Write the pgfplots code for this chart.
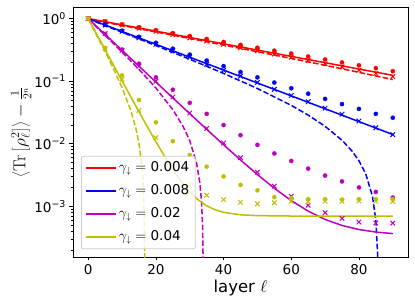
\documentclass[border=0pt]{standalone}
\usepackage[no-math]{fontspec}
\setmainfont{DejaVu Sans}
\usepackage{pgfplots}
\pgfplotsset{compat=1.18}
\definecolor{cR}{rgb}{1,0,0}
\definecolor{cB}{rgb}{0,0,1}
\definecolor{cM}{rgb}{0.75,0,0.75}
\definecolor{cY}{rgb}{0.75,0.75,0}
\newcommand{\tfont}{\fontsize{13.5}{16}\selectfont}
\newcommand{\lfont}{\fontsize{16.5}{19}\selectfont}
\begin{document}
\begin{tikzpicture}
\useasboundingbox (-73pt,-50pt) rectangle (342pt,257pt);
\begin{axis}[
  scale only axis, width=335pt, height=250pt,
  ymode=log, xmin=-4.5, xmax=94.5, ymin=1.55e-4, ymax=1.53,
  xtick={0,20,40,60,80}, xticklabels={0,20,40,60,80},
  ytick={1e-3,1e-2,1e-1,1},
  yticklabels={10\textsuperscript{−3},10\textsuperscript{−2},10\textsuperscript{−1},10\textsuperscript{0}},
  minor ytick={2e-4,3e-4,4e-4,5e-4,6e-4,7e-4,8e-4,9e-4,2e-3,3e-3,4e-3,5e-3,6e-3,7e-3,8e-3,9e-3,2e-2,3e-2,4e-2,5e-2,6e-2,7e-2,8e-2,9e-2,2e-1,3e-1,4e-1,5e-1,6e-1,7e-1,8e-1,9e-1},
  minor xtick={},
  xtick pos=left, ytick pos=left,
  tick align=outside, major tick length=3.5pt, minor tick length=2pt,
  every tick/.style={black, line width=0.8pt},
  every minor tick/.style={black, line width=0.6pt},
  axis line style={line width=0.8pt},
  ticklabel style={font=\tfont},
  xlabel={layer $\ell$},
  ylabel={$\left\langle \mathrm{Tr}\left[\rho_\ell^2\right]\right\rangle - \frac{1}{2^n}$},
  every axis x label/.style={at={(axis description cs:0.5,0)}, anchor=center, yshift=-31pt, font=\lfont},
  every axis y label/.style={at={(axis description cs:-0.155,0.5)}, rotate=90, anchor=center, font=\lfont},
  legend cell align=left,
  legend style={at={(0.024,0.031)}, anchor=south west, draw=black!20, line width=0.8pt,
    fill=white, fill opacity=0.8, text opacity=1, rounded corners=2pt, font=\tfont,
    row sep=5.5pt, inner xsep=4pt, inner ysep=3pt,
    nodes={inner sep=2pt, text height=10pt, text depth=3.5pt}},
  legend image code/.code={\draw[#1, line width=1.5pt] (0pt,0pt) -- (30pt,0pt);},
  sld/.style={line width=1.5pt},
  dsh/.style={line width=1.5pt, dash pattern=on 5.5pt off 2.4pt},
  dots/.style={only marks, mark=*, mark size=2.1pt, mark options={line width=0.3pt}},
  crs/.style={only marks, mark=x, mark size=3.2pt, mark options={line width=1pt}},
]
% ---- gamma = 0.004 (red)
\addplot[cR, sld] coordinates {(0,1) (90,0.1239)};
\addlegendentry{$\gamma_\downarrow =$ 0.004}
\addplot[cR, dsh, forget plot] coordinates {(0,0.982) (10,0.775) (20,0.611) (30,0.481) (40,0.377) (50,0.2955) (60,0.2306) (70,0.1791) (80,0.1383) (90,0.1059)};
\addplot[cR, dots, forget plot] coordinates {(0,1) (5,0.8985) (10,0.807) (15,0.725) (20,0.652) (25,0.585) (30,0.526) (35,0.472) (40,0.424) (45,0.380) (50,0.342) (55,0.307) (60,0.276) (65,0.247) (70,0.222) (75,0.199) (80,0.179) (85,0.161) (90,0.144)};
\addplot[cR, crs, forget plot] coordinates {(0,1) (5,0.888) (10,0.790) (15,0.702) (20,0.624) (25,0.553) (30,0.490) (35,0.436) (40,0.387) (45,0.344) (50,0.306) (55,0.271) (60,0.241) (65,0.214) (70,0.190) (75,0.169) (80,0.150) (85,0.133) (90,0.118)};
% ---- gamma = 0.008 (blue)
\addplot[cB, sld] coordinates {(0,1) (90,0.01404)};
\addlegendentry{$\gamma_\downarrow =$ 0.008}
\addplot[cB, dsh, forget plot] coordinates {(0,0.983) (10,0.605) (20,0.370) (30,0.224) (40,0.133) (50,0.0763) (60,0.0410) (65,0.0287) (70,0.0190) (75,0.01138) (78,0.00759) (80,0.00535) (82,0.00331) (84,0.00145) (85,0.00059) (85.5,0.00018) (85.6,0.0001)};
\addplot[cB, dots, forget plot] coordinates {(0,1) (5,0.80) (10,0.64) (15,0.51) (20,0.41) (25,0.33) (30,0.265) (35,0.213) (40,0.174) (45,0.14) (50,0.115) (55,0.095) (60,0.077) (65,0.063) (70,0.052) (75,0.043) (80,0.036) (85,0.030) (90,0.026)};
\addplot[cB, crs, forget plot] coordinates {(0,1) (5,0.789) (10,0.6225) (15,0.4912) (20,0.3875) (25,0.3057) (30,0.2412) (35,0.186) (40,0.149) (45,0.12) (50,0.095) (55,0.074) (60,0.059) (65,0.047) (70,0.037) (75,0.0296) (80,0.023) (85,0.018) (90,0.014)};
% ---- gamma = 0.02 (magenta)
\addplot[cM, sld] coordinates {(0,1.0003) (5,0.5574) (10,0.3107) (15,0.1732) (20,0.0966) (25,0.0540) (30,0.03024) (35,0.01700) (40,0.00962) (45,0.00551) (50,0.00322) (55,0.001945) (60,0.001234) (65,0.000838) (70,0.0006175) (75,0.0004946) (80,0.0004261) (85,0.000388) (90,0.0003667)};
\addlegendentry{$\gamma_\downarrow =$ 0.02}
\addplot[cM, dsh, forget plot] coordinates {(0,0.9813) (5,0.5384) (10,0.2917) (15,0.1542) (20,0.0776) (25,0.03496) (28,0.01908) (30,0.0112) (32,0.00496) (33,0.00235) (33.5,0.00115) (33.8,0.00047) (33.95,0.00014)};
\addplot[cM, dots, forget plot] coordinates {(0,1) (5,0.57) (10,0.32) (15,0.19) (20,0.115) (25,0.073) (30,0.045) (35,0.03) (40,0.0199) (45,0.0137) (50,0.0096) (55,0.007) (60,0.0053) (65,0.004) (70,0.0031) (75,0.0025) (80,0.002) (85,0.0017) (90,0.00138)};
\addplot[cM, crs, forget plot] coordinates {(0,1) (5,0.575) (10,0.31) (15,0.173) (20,0.1) (25,0.056) (30,0.031) (35,0.0175) (40,0.0103) (45,0.006) (50,0.0035) (55,0.0021) (60,0.00145) (65,0.00104) (70,0.00079) (75,0.00064) (80,0.00056) (85,0.00054) (90,0.00054)};
% ---- gamma = 0.04 (yellow)
\addplot[cY, sld] coordinates {(0,1.0007) (2.5,0.5634) (5,0.3173) (7.5,0.1789) (10,0.1010) (12.5,0.05712) (15,0.03245) (17.5,0.01856) (20,0.01075) (22.5,0.006356) (25,0.003883) (27.5,0.002491) (30,0.001708) (32.5,0.001267) (35,0.001019) (37.5,0.00088) (40,0.000801) (45,0.000732) (50,0.00071) (60,0.0007) (90,0.0007)};
\addlegendentry{$\gamma_\downarrow =$ 0.04}
\addplot[cY, dsh, forget plot] coordinates {(0,0.9785) (2.5,0.5412) (5,0.2951) (7.5,0.1567) (10,0.0788) (12.5,0.03492) (14,0.01846) (15,0.01025) (16,0.00372) (16.4,0.0015) (16.6,0.00047) (16.67,0.000127)};
\addplot[cY, dots, forget plot] coordinates {(0,1) (5,0.34) (10,0.124) (15,0.05) (20,0.022) (25,0.011) (30,0.0066) (35,0.0043) (40,0.003) (45,0.0022) (50,0.0018) (55,0.0014) (60,0.00135) (65,0.0013) (70,0.0013) (75,0.00128) (80,0.0013) (85,0.0013) (90,0.0013)};
\addplot[cY, crs, forget plot] coordinates {(0,1) (5,0.33) (10,0.107) (15,0.034) (20,0.0125) (25,0.0048) (30,0.0022) (35,0.0015) (40,0.00128) (45,0.00116) (50,0.0011) (55,0.00114) (60,0.0012) (65,0.00118) (70,0.0012) (75,0.0012) (80,0.00122) (85,0.0012) (90,0.0012)};
\end{axis}
\end{tikzpicture}
\end{document}
